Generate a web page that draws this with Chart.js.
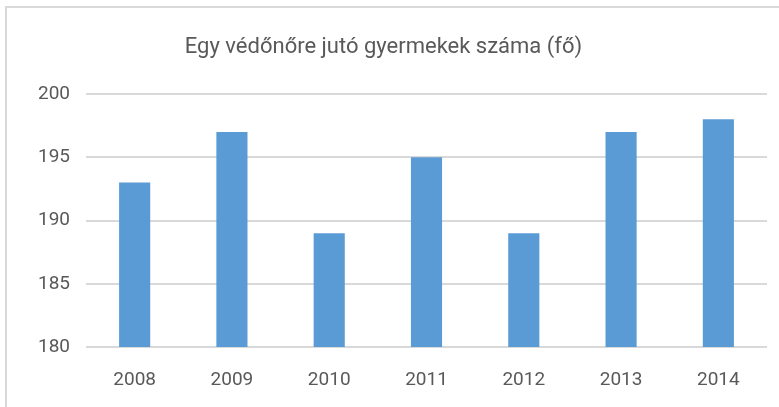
<!DOCTYPE html>
<html>
<head>
<meta charset="utf-8">
<script src="https://cdn.jsdelivr.net/npm/chart.js@4/dist/chart.umd.min.js"></script>
<style>
  body { margin: 0; background: #fff; }
  #frame { position: absolute; left: 5px; top: 6px; width: 800px; height: 420px; border: 2px solid #d9d9d9; }
  #wrap { position: absolute; left: 0; top: 0; width: 779px; height: 407px; }
</style>
</head>
<body>
<div id="frame"></div>
<div id="wrap"><canvas id="myChart"></canvas></div>
<script>
// Egy védőnőre jutó gyermekek száma, évenként
const years = ["2008", "2009", "2010", "2011", "2012", "2013", "2014"];
const children = [193, 197, 189, 195, 189, 197, 198];
const yTicks = [180, 185, 190, 195, 200];

const fontFamily = "'Liberation Sans Narrow', 'Roboto', sans-serif";
const textColor = "#595959";

const myChart = new Chart("myChart", {
  type: "bar",
  data: {
    labels: years,
    datasets: [{
      label: "Gyermekek",
      backgroundColor: "#5b9bd5",
      data: children,
      categoryPercentage: 1,
      barPercentage: 0.32
    }]
  },
  options: {
    responsive: true,
    maintainAspectRatio: false,
    animation: false,
    layout: { padding: { left: 0, right: 12, top: 0, bottom: 0 } },
    plugins: {
      legend: { display: false },
      tooltip: { enabled: false },
      title: {
        display: true,
        text: "Egy védőnőre jutó gyermekek száma (fő)",
        color: textColor,
        font: { family: fontFamily, size: 22, weight: "normal" },
        padding: { top: 34, bottom: 33.6 }
      }
    },
    scales: {
      x: {
        afterFit: (axis) => { axis.height = 60; },
        grid: { display: false, drawTicks: false },
        border: { display: false },
        ticks: { color: textColor, font: { family: fontFamily, size: 19 }, padding: 22 }
      },
      y: {
        min: yTicks[0],
        max: yTicks[yTicks.length - 1],
        afterBuildTicks: (axis) => { axis.ticks = yTicks.map(v => ({ value: v })); },
        afterFit: (axis) => { axis.width = 86; },
        grid: { color: "#d9d9d9", lineWidth: 2, drawTicks: false },
        border: { display: false },
        ticks: { color: textColor, font: { family: fontFamily, size: 19 }, padding: 16 }
      }
    }
  }
});
</script>
</body>
</html>
